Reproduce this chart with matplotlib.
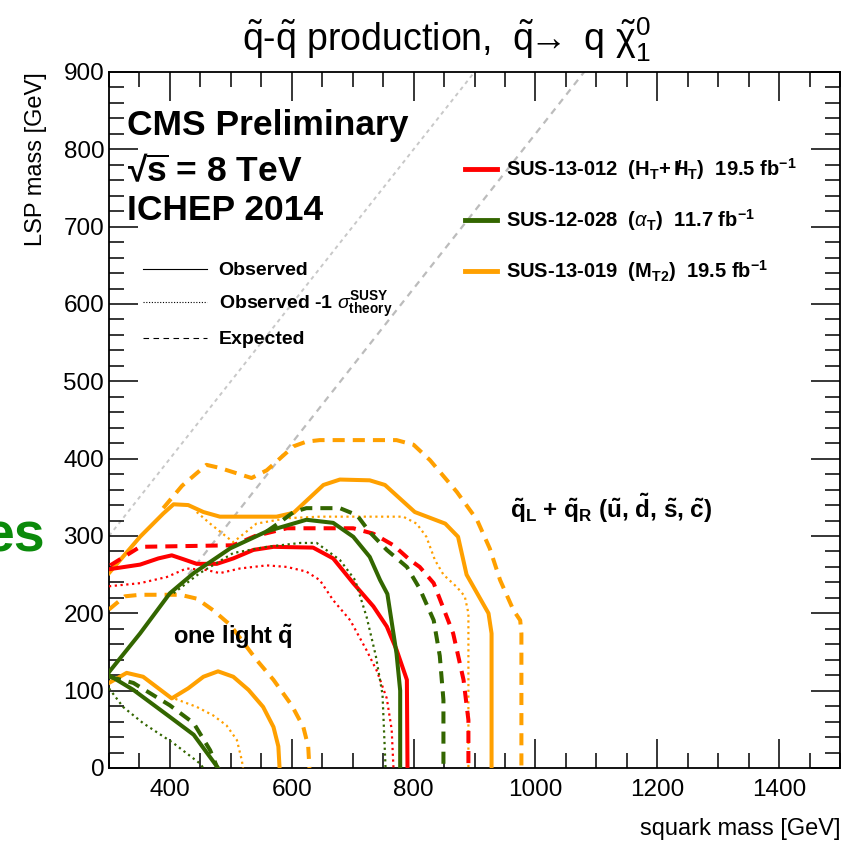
import numpy as np
import matplotlib
matplotlib.use('Agg')
import matplotlib.pyplot as plt
from matplotlib.lines import Line2D
from matplotlib.ticker import MultipleLocator

plt.rcParams['font.family'] = ['Liberation Sans', 'DejaVu Sans']
plt.rcParams['mathtext.fontset'] = 'custom'
plt.rcParams['mathtext.rm'] = 'Liberation Sans'
plt.rcParams['mathtext.it'] = 'Liberation Sans:italic'
plt.rcParams['mathtext.bf'] = 'Liberation Sans:bold'

RED = '#ff0000'
GREEN = '#336600'
ORANGE = '#ffa000'

# --- all squarks (qL + qR, 8 states) ---
mt2_obs_x = [300, 351, 389, 406, 430, 455, 482, 575, 603, 652, 679, 728, 753, 802, 852, 873, 887, 923, 928, 928]
mt2_obs_y = [252, 299, 329, 341, 340, 331, 325, 325, 330, 366, 373, 372, 366, 331, 316, 299, 250, 200, 174, 0]
mt2_exp_x = [389, 420, 460, 482, 534, 559, 603, 624, 646, 772, 800, 827, 871, 904, 925, 942, 964, 975, 977, 977]
mt2_exp_y = [336, 365, 392, 388, 375, 385, 416, 422, 424, 424, 418, 398, 357, 321, 284, 243, 204, 191, 174, 0]
mt2_m1s_x = [444, 466, 493, 504, 542, 592, 646, 745, 783, 805, 821, 835, 849, 871, 884, 890, 890]
mt2_m1s_y = [331, 316, 299, 292, 316, 323, 325, 325, 325, 316, 299, 269, 250, 234, 222, 200, 0]

ht_obs_x = [300, 351, 381, 403, 422, 444, 477, 504, 537, 570, 635, 668, 701, 734, 756, 772, 789, 790]
ht_obs_y = [257, 263, 271, 275, 270, 264, 264, 271, 282, 286, 285, 271, 239, 209, 183, 153, 114, 0]
ht_exp_x = [302, 351, 504, 540, 592, 701, 734, 767, 794, 810, 833, 865, 882, 890, 890]
ht_exp_y = [262, 286, 288, 300, 310, 310, 303, 288, 269, 260, 239, 174, 114, 62, 0]
ht_m1s_x = [300, 351, 395, 427, 460, 482, 515, 559, 592, 624, 646, 668, 696, 723, 740, 756, 764, 767]
ht_m1s_y = [235, 239, 247, 258, 256, 252, 258, 262, 260, 254, 243, 217, 191, 152, 125, 90, 50, 0]

at_obs_x = [300, 351, 400, 439, 499, 559, 624, 668, 701, 728, 745, 757, 772, 778, 778]
at_obs_y = [124, 174, 226, 252, 284, 306, 321, 317, 299, 273, 243, 225, 148, 100, 0]
at_exp_x = [559, 581, 603, 624, 679, 707, 728, 756, 789, 810, 833, 843, 849, 849]
at_exp_y = [306, 318, 331, 336, 336, 327, 305, 282, 260, 232, 191, 145, 88, 0]
at_m1s_x = [406, 449, 504, 559, 614, 641, 679, 704, 723, 738, 749, 754]
at_m1s_y = [226, 252, 278, 286, 291, 291, 269, 243, 195, 145, 95, 0]

# --- one light squark ---
mt2_obs_l_x = [300, 329, 356, 403, 430, 455, 479, 504, 529, 553, 570, 578, 580]
mt2_obs_l_y = [110, 123, 118, 90, 103, 118, 125, 118, 101, 79, 53, 28, 0]
mt2_exp_l_x = [300, 326, 351, 417, 444, 471, 499, 520, 542, 570, 600, 619, 627, 629]
mt2_exp_l_y = [205, 222, 224, 224, 219, 204, 185, 163, 140, 114, 81, 53, 28, 0]
mt2_m1s_l_x = [400, 444, 471, 493, 510, 518, 520]
mt2_m1s_l_y = [92, 79, 68, 55, 36, 10, 0]

at_obs_l_x = [300, 340, 400, 439, 479]
at_obs_l_y = [120, 101, 66, 43, 0]
at_exp_l_x = [300, 340, 400, 439, 466, 478]
at_exp_l_y = [118, 110, 81, 58, 23, 0]
at_m1s_l_x = [300, 323, 356, 406, 449, 455]
at_m1s_l_y = [103, 79, 58, 32, 6, 0]

# diagonal reference lines: mLSP = msq - offset
diag_offsets = [0, 180]

fig = plt.figure(figsize=(8.5, 8.42), dpi=100)
ax = fig.add_axes([109 / 850, 1 - 768 / 842, 731 / 850, 696 / 842])
ax.set_xlim(300, 1500)
ax.set_ylim(0, 900)

# diagonals
xd = np.array([300, 1500])
ax.plot(xd, xd - diag_offsets[0], color='#c8c8c8', lw=1.4, dashes=(2, 2), zorder=1)
xd2 = np.array([430, 1500])
ax.plot(xd2, xd2 - diag_offsets[1], color='#bcbcbc', lw=1.6, dashes=(3, 2.5), zorder=1)

LW = 2.9
LWD = 1.6
curves = [
    (mt2_obs_x, mt2_obs_y, ORANGE, 'solid'), (mt2_exp_x, mt2_exp_y, ORANGE, 'dash'),
    (mt2_m1s_x, mt2_m1s_y, ORANGE, 'dot'),
    (mt2_obs_l_x, mt2_obs_l_y, ORANGE, 'solid'), (mt2_exp_l_x, mt2_exp_l_y, ORANGE, 'dash'),
    (mt2_m1s_l_x, mt2_m1s_l_y, ORANGE, 'dot'),
    (ht_obs_x, ht_obs_y, RED, 'solid'), (ht_exp_x, ht_exp_y, RED, 'dash'),
    (ht_m1s_x, ht_m1s_y, RED, 'dot'),
    (at_obs_x, at_obs_y, GREEN, 'solid'), (at_exp_x, at_exp_y, GREEN, 'dash'),
    (at_m1s_x, at_m1s_y, GREEN, 'dot'),
    (at_obs_l_x, at_obs_l_y, GREEN, 'solid'), (at_exp_l_x, at_exp_l_y, GREEN, 'dash'),
    (at_m1s_l_x, at_m1s_l_y, GREEN, 'dot'),
]
for x, y, c, st in curves:
    if st == 'solid':
        ax.plot(x, y, color=c, lw=LW, solid_joinstyle='round', zorder=3)
    elif st == 'dash':
        ax.plot(x, y, color=c, lw=LW, dashes=(3, 2), zorder=3)
    else:
        ax.plot(x, y, color=c, lw=LWD, dashes=(1, 1.6), zorder=3)

# axes styling
ax.xaxis.set_major_locator(MultipleLocator(200))
ax.xaxis.set_minor_locator(MultipleLocator(50))
ax.yaxis.set_major_locator(MultipleLocator(100))
ax.yaxis.set_minor_locator(MultipleLocator(20))
ax.tick_params(which='both', direction='in', top=True, right=True, labelsize=17.5, width=1.1)
ax.tick_params(which='major', length=21)
ax.tick_params(which='minor', length=10.5)
ax.tick_params(axis='x', pad=8)
for s in ax.spines.values():
    s.set_linewidth(1.3)

ax.set_xlabel('squark mass [GeV]', fontsize=17, loc='right', labelpad=12)
ax.set_ylabel('LSP mass [GeV]', fontsize=17, loc='top', labelpad=12)

fig.text(0.525, 1 - 40 / 842,
         r'$\tilde{\mathrm{q}}$-$\tilde{\mathrm{q}}$ production,  $\tilde{\mathrm{q}}\!\!\rightarrow$ q $\tilde{\mathrm{\chi}}^{0}_{1}$',
         fontsize=27, ha='center', va='center')

# text blocks
tb = dict(transform=ax.transAxes, fontweight='bold', ha='left', va='center')
ax.text(18 / 731, 1 - 53 / 696, 'CMS Preliminary', fontsize=25.5, **tb)
ax.text(18 / 731, 1 - 100 / 696, '\u221a' + r'$\overline{\mathbf{s}}$ = 8 TeV', fontsize=25.5, **tb)
ax.text(18 / 731, 1 - 138 / 696, 'ICHEP 2014', fontsize=25.5, **tb)

ax.text(958, 336,
        r'$\mathbf{\tilde{q}_{L}}$ + $\mathbf{\tilde{q}_{R}}$ ($\mathbf{\tilde{u}}$, $\mathbf{\tilde{d}}$, $\mathbf{\tilde{s}}$, $\mathbf{\tilde{c}}$)',
        fontsize=17.5, fontweight='bold', ha='left', va='center')
ax.text(405, 169, r'one light $\mathbf{\tilde{q}}$', fontsize=17, fontweight='bold',
        ha='left', va='center')

# style legend
h1 = [Line2D([], [], color='black', lw=0.8),
      Line2D([], [], color='black', lw=0.8, dashes=(1, 1.5)),
      Line2D([], [], color='black', lw=0.8, dashes=(5, 4))]
l1 = ['Observed', r'Observed -1 $\sigma^{\mathbf{SUSY}}_{\mathbf{theory}}$', 'Expected']
leg1 = ax.legend(h1, l1, loc='upper left', bbox_to_anchor=(26 / 731, 1 - 182 / 696),
                 frameon=False, prop={'weight': 'bold', 'size': 14},
                 handlelength=3.3, handletextpad=0.6, labelspacing=0.55,
                 borderaxespad=0)
ax.add_artist(leg1)

# analysis legend
h2 = [Line2D([], [], color=RED, lw=3.5),
      Line2D([], [], color=GREEN, lw=3.5),
      Line2D([], [], color=ORANGE, lw=3.5)]
l2 = [r'SUS-13-012  (H$_\mathbf{T}$+ $\mathbf{/\!\!\!H}_\mathbf{T}$)  19.5 fb$^{\mathbf{-1}}$',
      r'SUS-12-028  ($\alpha_\mathbf{T}$)  11.7 fb$^{\mathbf{-1}}$',
      r'SUS-13-019  (M$_\mathbf{T2}$)  19.5 fb$^{\mathbf{-1}}$']
ax.legend(h2, l2, loc='upper left', bbox_to_anchor=(348 / 731, 1 - 76 / 696),
          frameon=False, prop={'weight': 'bold', 'size': 14.5},
          handlelength=1.6, handletextpad=0.45, labelspacing=1.25, borderaxespad=0)

fig.text(45 / 850, 1 - 537 / 842, 'es', fontsize=40, fontweight='bold', color='#0b8a0b',
         ha='right', va='center')

fig.savefig('out.png', dpi=100)
